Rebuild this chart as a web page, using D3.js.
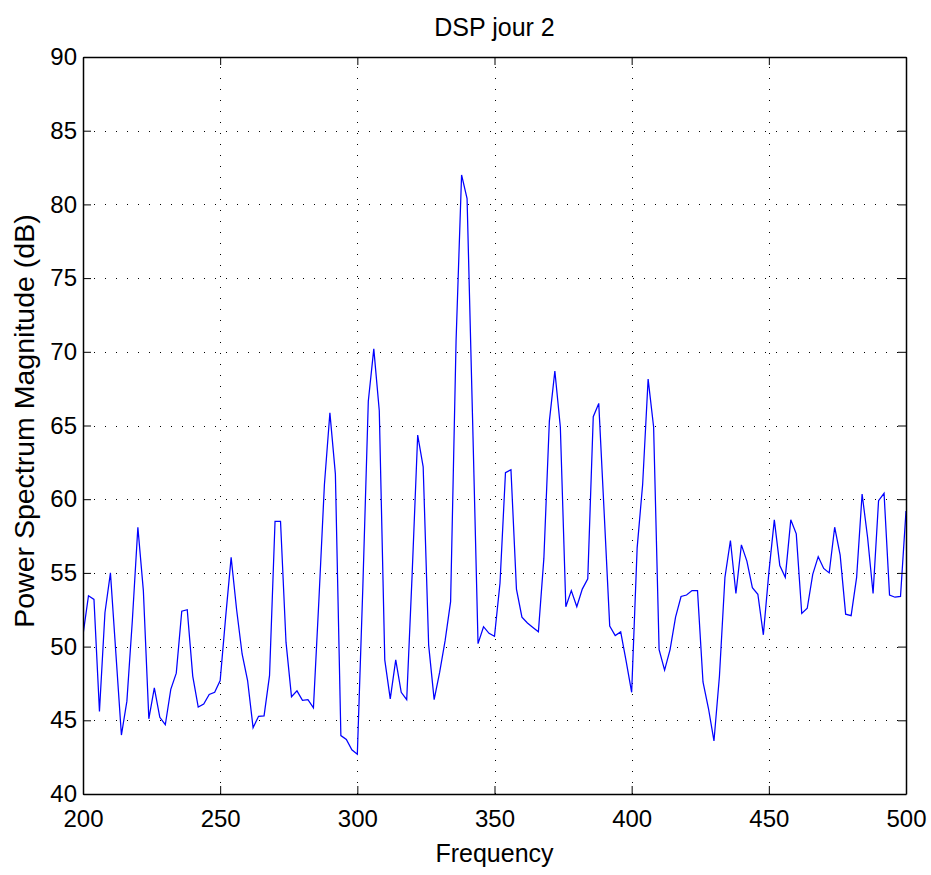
<!DOCTYPE html>
<html>
<head>
<meta charset="utf-8">
<script src="https://cdn.jsdelivr.net/npm/d3@7"></script>
<style>
  html, body { margin: 0; padding: 0; background: #fff; }
  svg { display: block; }
  text { font-family: "Liberation Sans", Arial, Helvetica, sans-serif; fill: #000; }
</style>
</head>
<body>
<svg id="chart" width="931" height="875"></svg>
<script>
// ---- Data ----
const chartTitle = "DSP jour 2";
const xLabel = "Frequency";
const yLabel = "Power Spectrum Magnitude (dB)";

const frequencies = [
  200,202,204,206,208,210,212,214,216,218,220,222,224,226,228,230,232,234,236,238,
  240,242,244,246,248,250,252,254,256,258,260,262,264,266,268,270,272,274,276,278,
  280,282,284,286,288,290,292,294,296,298,300,302,304,306,308,310,312,314,316,318,
  320,322,324,326,328,330,332,334,336,338,340,342,344,346,348,350,352,354,356,358,
  360,362,364,366,368,370,372,374,376,378,380,382,384,386,388,390,392,394,396,398,
  400,402,404,406,408,410,412,414,416,418,420,422,424,426,428,430,432,434,436,438,
  440,442,444,446,448,450,452,454,456,458,460,462,464,466,468,470,472,474,476,478,
  480,482,484,486,488,490,492,494,496,498,500
];

const magnitudeDb = [
  50.8,53.45,53.2,45.6,52.3,55.0,49.5,44.0,46.3,51.8,58.1,53.8,45.1,47.2,45.2,44.7,47.1,48.2,52.4,52.5,
  48.0,45.9,46.1,46.75,46.9,47.7,52.0,56.05,52.5,49.5,47.7,44.5,45.27,45.3,48.05,58.5,58.5,50.3,46.6,47.0,
  46.35,46.4,45.85,53.2,61.0,65.86,61.7,43.96,43.7,43.0,42.7,54.0,66.65,70.2,66.0,49.1,46.45,49.1,46.9,46.4,
  55.0,64.35,62.2,50.1,46.4,48.25,50.4,53.05,70.8,82.0,80.4,65.5,50.2,51.35,50.9,50.7,54.3,61.8,62.0,53.9,
  52.0,51.6,51.3,51.0,56.0,65.3,68.7,64.9,52.7,53.8,52.7,53.9,54.6,65.6,66.5,59.0,51.4,50.75,51.0,49.0,
  46.9,56.7,61.0,68.15,64.9,49.8,48.4,49.8,52.0,53.4,53.5,53.8,53.8,47.6,45.8,43.6,48.0,54.7,57.2,53.6,
  56.9,55.8,54.0,53.55,50.8,55.0,58.6,55.5,54.7,58.6,57.65,52.25,52.6,54.9,56.1,55.3,55.0,58.1,56.2,52.2,
  52.1,54.7,60.35,57.4,53.6,59.9,60.4,53.5,53.35,53.4,59.2
];

const xTicks = [200, 250, 300, 350, 400, 450, 500];
const yTicks = [40, 45, 50, 55, 60, 65, 70, 75, 80, 85, 90];
const xDomain = [200, 500];
const yDomain = [40, 90];

// ---- Layout ----
const svg = d3.select("#chart");
const margin = { left: 83, right: 25, top: 57, bottom: 81 };
const W = 931, H = 875;
const plotW = W - margin.left - margin.right;
const plotH = H - margin.top - margin.bottom;

const x = d3.scaleLinear().domain(xDomain).range([margin.left, margin.left + plotW]);
const y = d3.scaleLinear().domain(yDomain).range([margin.top + plotH, margin.top]);

const tickFont = 24;
const labelFont = 25;

// grid
const grid = svg.append("g");
grid.selectAll("line.vg").data(xTicks.slice(1, -1)).join("line")
  .attr("x1", d => Math.round(x(d)) + 0.5).attr("x2", d => Math.round(x(d)) + 0.5)
  .attr("y1", y(yDomain[0])).attr("y2", y(yDomain[1]))
  .attr("stroke", "#000").attr("stroke-width", 1).attr("stroke-dasharray", "1,10");
grid.selectAll("line.hg").data(yTicks.slice(1, -1)).join("line")
  .attr("y1", d => Math.round(y(d)) + 0.5).attr("y2", d => Math.round(y(d)) + 0.5)
  .attr("x1", x(xDomain[0])).attr("x2", x(xDomain[1]))
  .attr("stroke", "#000").attr("stroke-width", 1).attr("stroke-dasharray", "1,10");

// data line
const clipId = "plotclip";
svg.append("clipPath").attr("id", clipId).append("rect")
  .attr("x", margin.left).attr("y", margin.top).attr("width", plotW).attr("height", plotH);

const series = frequencies.map((f, i) => ({ f, v: magnitudeDb[i] }));
svg.append("path")
  .datum(series)
  .attr("clip-path", `url(#${clipId})`)
  .attr("fill", "none")
  .attr("stroke", "#0000ff")
  .attr("stroke-width", 1.25)
  .attr("stroke-linejoin", "miter")
  .attr("d", d3.line().x(d => x(d.f)).y(d => y(d.v)));

// axes with inward ticks on all four sides
const tickLen = 8;
const axB = svg.append("g").attr("transform", `translate(0,${y(yDomain[0])})`)
  .call(d3.axisBottom(x).tickValues(xTicks).tickSizeInner(-tickLen).tickSizeOuter(0).tickPadding(16).tickFormat(d3.format("d")));
const axT = svg.append("g").attr("transform", `translate(0,${y(yDomain[1])})`)
  .call(d3.axisTop(x).tickValues(xTicks).tickSizeInner(-tickLen).tickSizeOuter(0).tickFormat(""));
const axL = svg.append("g").attr("transform", `translate(${x(xDomain[0])},0)`)
  .call(d3.axisLeft(y).tickValues(yTicks).tickSizeInner(-tickLen).tickSizeOuter(0).tickPadding(6).tickFormat(d3.format("d")));
const axR = svg.append("g").attr("transform", `translate(${x(xDomain[1])},0)`)
  .call(d3.axisRight(y).tickValues(yTicks).tickSizeInner(-tickLen).tickSizeOuter(0).tickFormat(""));

[axB, axT, axL, axR].forEach(a => {
  a.select(".domain").attr("stroke", "#000").attr("stroke-width", 1.5);
  a.selectAll(".tick line").attr("stroke", "#000").attr("stroke-width", 1);
  a.selectAll(".tick text").attr("font-size", tickFont)
    .attr("font-family", "Liberation Sans, Arial, sans-serif").attr("fill", "#000");
});
axB.selectAll(".tick text").attr("dy", "0.71em");

// title and labels
svg.append("text").attr("x", x(350)).attr("y", 36)
  .attr("text-anchor", "middle").attr("font-size", labelFont).text(chartTitle);
svg.append("text").attr("x", x(350)).attr("y", 862)
  .attr("text-anchor", "middle").attr("font-size", labelFont).text(xLabel);
svg.append("text")
  .attr("transform", `translate(34,${y(65.3)}) rotate(-90)`)
  .attr("text-anchor", "middle").attr("font-size", 28.5).text(yLabel);
</script>
</body>
</html>
